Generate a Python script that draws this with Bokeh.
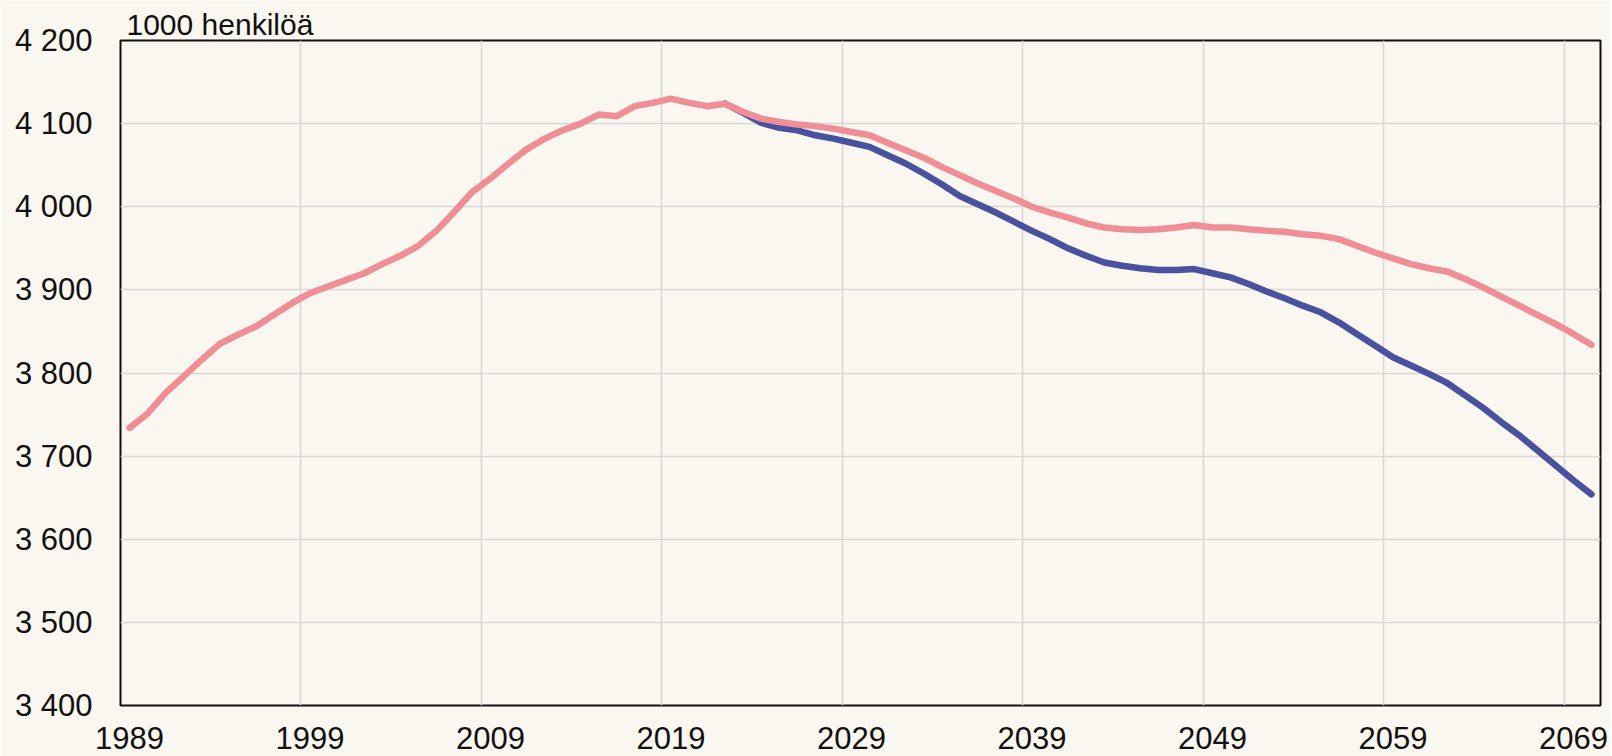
from bokeh.plotting import figure
from bokeh.models import Range1d, FixedTicker
from bokeh.embed import file_html
from bokeh.resources import INLINE

# ---- data ----
years = list(range(1989, 2071))
series_a = [  # pink (history + projection A), 1989..2070
    3734, 3751, 3776, 3796, 3816, 3835, 3846, 3856, 3870, 3884,   # 1989-1998
    3896, 3904, 3912, 3920, 3931, 3941, 3953, 3971, 3994, 4018,   # 1999-2008
    4034, 4052, 4069, 4082, 4092, 4100, 4111, 4109, 4121, 4125,   # 2009-2018
    4130, 4125, 4121, 4124, 4114, 4106, 4102, 4099, 4097, 4094,   # 2019-2028
    4090, 4086, 4077, 4068, 4059, 4048, 4038, 4028, 4019, 4010,   # 2029-2038
    4000, 3993, 3987, 3980, 3975, 3973, 3972, 3973, 3975, 3978,   # 2039-2048
    3975, 3975, 3973, 3971, 3970, 3967, 3965, 3961, 3953, 3945,   # 2049-2058
    3938, 3931, 3926, 3922, 3913, 3903, 3892, 3881, 3870, 3859,   # 2059-2068
    3847, 3834,                                                   # 2069-2070
]
years_b = list(range(2022, 2071))
series_b = [  # blue (projection B), 2022..2070
    4124, 4113, 4101, 4095, 4092, 4086, 4082,                     # 2022-2028
    4077, 4072, 4062, 4052, 4040, 4027, 4013, 4003, 3993, 3982,   # 2029-2038
    3971, 3961, 3950, 3941, 3933, 3929, 3926, 3924, 3924, 3925,   # 2039-2048
    3920, 3915, 3907, 3898, 3890, 3881, 3873, 3861, 3847, 3833,   # 2049-2058
    3819, 3809, 3799, 3788, 3773, 3758, 3741, 3725, 3707, 3689,   # 2059-2068
    3671, 3654,                                                   # 2069-2070
]
x_tick_years = [1989, 1999, 2009, 2019, 2029, 2039, 2049, 2059, 2069]
x_tick_labels = ["1989", "1999", "2009", "2019", "2029", "2039", "2049", "2059", "2069"]
y_ticks = [3400, 3500, 3600, 3700, 3800, 3900, 4000, 4100, 4200]
y_tick_labels = ["3 400", "3 500", "3 600", "3 700", "3 800", "3 900", "4 000", "4 100", "4 200"]
unit_label = "1000 henkilöä"

# ---- style ----
BG = "#faf6f0"
PINK = "#f08e96"
BLUE = "#4a52a0"
FONT = "Liberation Sans"
TICK_FS = "31px"
TITLE_FS = "30px"
INK = "#111111"

p = figure(
    width=1610, height=756,
    x_range=Range1d(years[0] - 0.5, years[-1] + 0.5),
    y_range=Range1d(y_ticks[0], y_ticks[-1]),
    output_backend="svg", toolbar_location=None,
    min_border_left=120, min_border_right=10, min_border_top=40, min_border_bottom=51,
    background_fill_color=BG, border_fill_color=BG,
    outline_line_color=INK, outline_line_width=2,
)

p.line(years_b, series_b, line_color=BLUE, line_width=6.5, line_cap="round", line_join="round")
p.line(years, series_a, line_color=PINK, line_width=6.5, line_cap="round", line_join="round")

# axes
p.xaxis.ticker = FixedTicker(ticks=x_tick_years)
p.xaxis.major_label_overrides = dict(zip(x_tick_years, x_tick_labels))
p.yaxis.ticker = FixedTicker(ticks=y_ticks)
p.yaxis.major_label_overrides = dict(zip(y_ticks, y_tick_labels))
for ax in (p.xaxis, p.yaxis):
    ax.axis_line_color = None
    ax.major_tick_line_color = None
    ax.minor_tick_line_color = None
    ax.major_tick_out = 0
    ax.major_tick_in = 0
    ax.minor_tick_out = 0
    ax.minor_tick_in = 0
    ax.major_label_text_font = FONT
    ax.major_label_text_font_size = TICK_FS
    ax.major_label_text_color = INK
p.xaxis.major_label_standoff = 21
p.yaxis.major_label_standoff = 28

# grids: vertical lines sit between categories
p.xgrid.ticker = FixedTicker(ticks=[y - 0.5 for y in x_tick_years])
p.ygrid.ticker = FixedTicker(ticks=y_ticks)
for g in (p.xgrid, p.ygrid):
    g.grid_line_color = "#dad8d6"
    g.grid_line_width = 1.6

# unit label as title above the frame
p.title.text = unit_label
p.title.text_font = FONT
p.title.text_font_size = TITLE_FS
p.title.text_font_style = "normal"
p.title.text_color = INK
p.title.align = "left"
p.title.offset = 6
p.title.standoff = 0

open("out.html", "w").write(file_html(p, INLINE))
